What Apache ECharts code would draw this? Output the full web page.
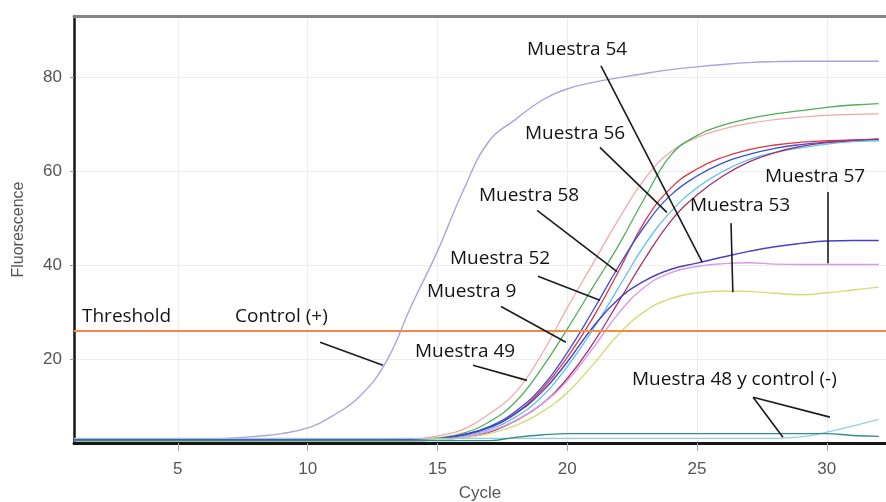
<!DOCTYPE html>
<html>
<head>
<meta charset="utf-8">
<style>
  html, body { margin: 0; padding: 0; background: #ffffff; }
  #chart { width: 886px; height: 502px; }
</style>
<script src="https://cdn.jsdelivr.net/npm/echarts@6/dist/echarts.min.js"></script>
</head>
<body>
<div id="chart"></div>
<script>
// Amplification cycles (x) and axis ticks
const cycles = [1,2,3,4,5,6,7,8,9,10,11,12,13,14,15,16,17,18,19,20,21,22,23,24,25,26,27,28,29,30,31,32];
const xTicks = [5, 10, 15, 20, 25, 30];
const yTicks = [20, 40, 60, 80];
const thresholdValue = 26.2;

// Fluorescence readings per cycle, one array per well
const controlPositive = [3.0,3.0,3.0,3.0,3.0,3.1,3.3,3.7,4.3,5.5,8.2,12.2,19.3,31.5,43,56,66.5,71,75,77.5,78.9,79.9,80.8,81.6,82.2,82.7,83.1,83.3,83.4,83.4,83.4,83.4];
const wellSalmon = [2.9,2.9,2.9,2.9,2.9,2.9,2.9,2.9,2.9,2.9,2.9,2.9,3.0,3.1,3.8,5.2,8.5,13,21,31,40.5,50,58.5,64.2,67.2,69,70.2,71,71.5,71.9,72.1,72.2];
const wellGreen = [2.9,2.9,2.9,2.9,2.9,2.9,2.9,2.9,2.9,2.9,2.9,2.9,2.9,3.0,3.4,4.4,6.8,11,18,26.5,35.5,44.5,54.5,63.5,67.6,69.8,71.2,72.2,72.9,73.6,74.1,74.4];
const wellRed = [2.9,2.9,2.9,2.9,2.9,2.9,2.9,2.9,2.9,2.9,2.9,2.9,2.9,2.9,3.2,4.0,5.6,8.6,13.5,20.5,29,39,49.5,56.5,60.5,63,64.6,65.6,66.2,66.5,66.7,66.8];
const wellBlue = [2.9,2.9,2.9,2.9,2.9,2.9,2.9,2.9,2.9,2.9,2.9,2.9,2.9,2.9,3.2,4.1,5.8,9,14,21.5,30.5,40,48.5,55,59,61.8,63.6,64.9,65.7,66.2,66.5,66.7];
const wellCyan = [2.8,2.8,2.8,2.8,2.8,2.8,2.8,2.8,2.8,2.8,2.8,2.8,2.8,2.8,3.1,3.8,5.2,7.8,12,18.5,26.5,35.5,44.5,51.5,56.5,60,62.5,64,65,65.8,66.3,66.5];
const wellMagenta = [2.8,2.8,2.8,2.8,2.8,2.8,2.8,2.8,2.8,2.8,2.8,2.8,2.8,2.8,3.0,3.5,4.6,7,10.5,16,23.5,32.5,41.5,49.5,55,59,62,64,65.3,66.1,66.6,66.9];
const well54 = [2.9,2.9,2.9,2.9,2.9,2.9,2.9,2.9,2.9,2.9,2.9,2.9,2.9,2.9,3.2,4.0,5.6,8.5,13,19.5,27,33,36.8,39.2,40.5,41.8,43,44,44.7,45.2,45.3,45.3];
const well57 = [2.8,2.8,2.8,2.8,2.8,2.8,2.8,2.8,2.8,2.8,2.8,2.8,2.8,2.8,3.0,3.6,4.8,7,10.5,15.5,22.5,30,35.5,38.5,39.8,40.4,40.6,40.3,40.2,40.2,40.2,40.2];
const well53 = [2.8,2.8,2.8,2.8,2.8,2.8,2.8,2.8,2.8,2.8,2.8,2.8,2.8,2.8,3.0,3.4,4.3,6,8.8,13,19,25.5,30.3,33,34.2,34.6,34.5,34.1,33.8,34.2,34.8,35.4];
const controlNegative = [3.3,3.3,3.3,3.3,3.3,3.3,3.3,3.3,3.3,3.3,3.3,3.3,3.3,3.3,3.3,3.3,3.3,3.3,3.3,3.3,3.3,3.3,3.3,3.3,3.3,3.3,3.3,3.3,3.6,4.6,5.9,7.3];
const well48 = [2.8,2.8,2.8,2.8,2.8,2.8,2.8,2.8,2.8,2.8,2.8,2.8,2.8,2.8,2.8,2.8,2.8,3.5,4.0,4.3,4.3,4.3,4.3,4.3,4.3,4.3,4.3,4.3,4.3,4.3,3.9,3.7];

const curves = [
  { name: 'Control (+)', values: controlPositive, color: '#aaa4dc', width: 1.4 },
  { name: 'Muestra 49', values: wellSalmon, color: '#f3a6a6', width: 1.2 },
  { name: 'Muestra 9', values: wellGreen, color: '#4fae5a', width: 1.3 },
  { name: 'Muestra 52', values: wellRed, color: '#e5323e', width: 1.3 },
  { name: 'Muestra 58', values: wellBlue, color: '#3352dc', width: 1.3 },
  { name: 'Muestra 56', values: wellCyan, color: '#5cc3ee', width: 1.3 },
  { name: 'Muestra 55', values: wellMagenta, color: '#a8306e', width: 1.3 },
  { name: 'Muestra 54', values: well54, color: '#4b3fc6', width: 1.4 },
  { name: 'Muestra 57', values: well57, color: '#d99be8', width: 1.4 },
  { name: 'Muestra 53', values: well53, color: '#d5dc72', width: 1.4 },
  { name: 'Control (-)', values: controlNegative, color: '#8fd0e2', width: 1.3 },
  { name: 'Muestra 48', values: well48, color: '#3a8c8a', width: 1.4 }
];

// Callout pointers: [from, to] in (cycle, fluorescence)
const pointers = [
  [[21.3, 82.4], [25.2, 40.7]],
  [[21.26, 65.1], [23.84, 51.3]],
  [[18.84, 51.7], [21.92, 38.7]],
  [[18.87, 37.7], [21.26, 32.6]],
  [[17.45, 31.3], [19.95, 23.7]],
  [[16.37, 18.8], [18.45, 15.6]],
  [[10.48, 23.7], [12.9, 18.8]],
  [[30.04, 55.6], [30.04, 40.5]],
  [[26.31, 49.0], [26.38, 34.3]],
  [[27.16, 12.0], [28.31, 3.5]],
  [[27.16, 12.0], [30.12, 7.8]]
];

// Callout texts with their left/middle anchor in pixels
const callouts = [
  { text: 'Muestra 54', x: 527, y: 53 },
  { text: 'Muestra 56', x: 525, y: 137 },
  { text: 'Muestra 58', x: 479, y: 199 },
  { text: 'Muestra 52', x: 450, y: 262 },
  { text: 'Muestra 9', x: 427, y: 295 },
  { text: 'Muestra 49', x: 415, y: 355 },
  { text: 'Control (+)', x: 235, y: 320 },
  { text: 'Threshold', x: 82, y: 320 },
  { text: 'Muestra 57', x: 765, y: 180 },
  { text: 'Muestra 53', x: 690, y: 209 },
  { text: 'Muestra 48 y control (-)', x: 632, y: 383 }
];

const X_MIN = 1, X_MAX = 32.28, Y_MIN = 2.3, Y_MAX = 93;
const axisFont = 'Liberation Sans, Arial, sans-serif';
const calloutFont = '19px "Open Sans", sans-serif';

const chart = echarts.init(document.getElementById('chart'), null, { renderer: 'canvas' });

const lineSeries = curves.map(c => ({
  name: c.name,
  type: 'line',
  data: cycles.map((x, i) => [x, c.values[i]]),
  showSymbol: false,
  smooth: 0.45,
  silent: true,
  lineStyle: { color: c.color, width: c.width },
  itemStyle: { color: c.color },
  z: 3
}));

const annotationSeries = {
  type: 'line',
  data: [],
  silent: true,
  z: 5,
  markLine: {
    silent: true,
    symbol: ['none', 'none'],
    label: { show: false },
    animation: false,
    data: [
      { yAxis: thresholdValue, lineStyle: { color: '#f08a45', width: 2, type: 'solid' } }
    ].concat(pointers.map(p => [
      { coord: p[0], lineStyle: { color: '#1c1c1c', width: 1.6, type: 'solid' } },
      { coord: p[1] }
    ]))
  }
};

chart.setOption({
  animation: false,
  backgroundColor: '#ffffff',
  grid: { left: 74, top: 16, right: 0, bottom: 59, outerBoundsMode: 'none', containLabel: false },
  xAxis: [
    {
      type: 'value', min: X_MIN, max: X_MAX,
      name: 'Cycle', nameLocation: 'middle', nameGap: 42,
      nameTextStyle: { color: '#555', fontSize: 17, fontFamily: axisFont },
      axisLine: { show: true, onZero: false, lineStyle: { color: '#151515', width: 3 } },
      axisTick: { show: true, customValues: xTicks, length: 8, lineStyle: { color: '#aaaaaa', width: 1 } },
      axisLabel: { customValues: xTicks, color: '#555', fontSize: 17, fontFamily: axisFont, margin: 18 },
      splitLine: { show: true, lineStyle: { color: '#ededed', width: 1 } }
    },
    {
      type: 'value', position: 'top', min: X_MIN, max: X_MAX,
      axisLine: { show: true, onZero: false, lineStyle: { color: '#858585', width: 3 } },
      axisTick: { show: false }, axisLabel: { show: false }, splitLine: { show: false }
    }
  ],
  yAxis: {
    type: 'value', min: Y_MIN, max: Y_MAX,
    name: 'Fluorescence', nameLocation: 'middle', nameGap: 47,
    nameTextStyle: { color: '#555', fontSize: 16, fontFamily: axisFont },
    axisLine: { show: true, onZero: false, lineStyle: { color: '#151515', width: 2.5 } },
    axisTick: { show: true, customValues: yTicks, length: 4, lineStyle: { color: '#999', width: 1 } },
    axisLabel: { customValues: yTicks, color: '#555', fontSize: 17, fontFamily: axisFont, margin: 12 },
    splitLine: { show: true, lineStyle: { color: '#ededed', width: 1 } }
  },
  series: lineSeries.concat([annotationSeries]),
  graphic: callouts.map(c => ({
    type: 'text',
    left: c.x,
    top: c.y - 13,
    z: 100,
    style: { text: c.text, font: calloutFont, fill: '#141414' }
  }))
});
</script>
</body>
</html>
